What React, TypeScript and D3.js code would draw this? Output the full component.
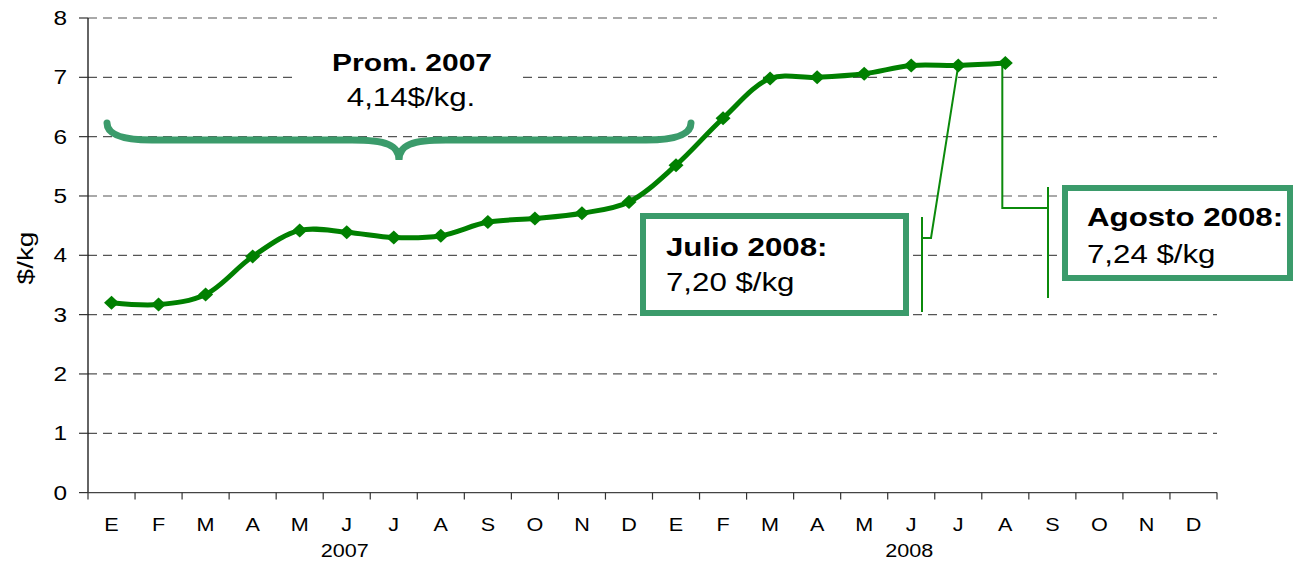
import React, { useEffect, useRef } from "react";
import * as d3 from "d3";

const months = ["E", "F", "M", "A", "M", "J", "J", "A", "S", "O", "N", "D"];
const categories = [...months, ...months];
const years = ["2007", "2008"];
// $/kg, Ene 2007 .. Ago 2008
const priceValues = [
  3.2, 3.17, 3.34, 3.98, 4.42, 4.39, 4.3, 4.33, 4.56, 4.62, 4.71, 4.9,
  5.52, 6.31, 6.98, 7.0, 7.06, 7.2, 7.2, 7.24,
];
const yTicks = [0, 1, 2, 3, 4, 5, 6, 7, 8];

const promTitle = "Prom. 2007";
const promValue = "4,14$/kg.";
const julioTitle = "Julio 2008:";
const julioValue = "7,20 $/kg";
const agostoTitle = "Agosto 2008:";
const agostoValue = "7,24 $/kg";

const FONT = "'Liberation Sans', Arial, sans-serif";
const SX = 1.25; // the source is stretched horizontally

const PriceChart: React.FC = () => {
  const ref = useRef<SVGSVGElement | null>(null);

  useEffect(() => {
    const svg = d3.select(ref.current);
    svg.selectAll("*").remove();

    const left = 88;
    const right = 1217;
    const top = 18;
    const bottom = 492.6;

    const x = d3
      .scaleBand<number>()
      .domain(d3.range(categories.length))
      .range([left, right]);
    const cx = (i: number) => x(i)! + x.bandwidth() / 2;
    const y = d3.scaleLinear().domain([0, 8]).range([bottom, top]);

    const label = (
      g: d3.Selection<any, unknown, null, undefined>,
      tx: number,
      ty: number,
      txt: string,
      size: number,
      anchor = "start",
      weight = "normal",
      sx = SX
    ) => {
      g.append("g")
        .attr("transform", `translate(${tx},${ty}) scale(${sx},1)`)
        .append("text")
        .attr("text-anchor", anchor)
        .style("font-family", FONT)
        .style("font-size", `${size}px`)
        .style("font-weight", weight)
        .attr("fill", "#000")
        .text(txt);
    };

    // Grid
    svg
      .append("g")
      .selectAll("line")
      .data(yTicks.filter((d) => d > 0))
      .join("line")
      .attr("x1", left)
      .attr("x2", right)
      .attr("y1", (d) => y(d))
      .attr("y2", (d) => y(d))
      .attr("stroke", "#555")
      .attr("stroke-width", 1.2)
      .attr("stroke-dasharray", "9,6");

    // Y axis
    const yAxis = svg.append("g");
    yAxis
      .append("line")
      .attr("x1", left)
      .attr("x2", left)
      .attr("y1", top)
      .attr("y2", bottom)
      .attr("stroke", "#111")
      .attr("stroke-width", 1.3);
    yTicks.forEach((t) => {
      yAxis
        .append("line")
        .attr("x1", left - 9)
        .attr("x2", left)
        .attr("y1", y(t))
        .attr("y2", y(t))
        .attr("stroke", "#333")
        .attr("stroke-width", 1.2);
      label(yAxis, 67, y(t) + 7, String(t), 19.5, "end");
    });
    yAxis
      .append("g")
      .attr("transform", `translate(33,258) rotate(-90) scale(1.27,1)`)
      .append("text")
      .attr("text-anchor", "middle")
      .style("font-family", FONT)
      .style("font-size", "22px")
      .text("$/kg");

    // X axis
    const xAxis = svg.append("g");
    xAxis
      .append("line")
      .attr("x1", left)
      .attr("x2", right)
      .attr("y1", bottom)
      .attr("y2", bottom)
      .attr("stroke", "#444")
      .attr("stroke-width", 1.3);
    d3.range(categories.length + 1).forEach((i) => {
      const px = left + i * x.step();
      xAxis
        .append("line")
        .attr("x1", px)
        .attr("x2", px)
        .attr("y1", bottom)
        .attr("y2", bottom + 7)
        .attr("stroke", "#333")
        .attr("stroke-width", 1.2);
    });
    categories.forEach((m, i) => label(xAxis, cx(i), 531, m, 18, "middle", "normal", 1.2));
    years.forEach((yr, k) => label(xAxis, cx(k * 12 + 5) - 2, 557, yr, 18, "middle", "normal", 1.2));

    // Prom. 2007 note
    const note = svg.append("g");
    note
      .append("rect")
      .attr("x", 296)
      .attr("y", 42)
      .attr("width", 226)
      .attr("height", 72)
      .attr("fill", "#fff");
    label(note, 412, 71, promTitle, 24, "middle", "bold");
    label(note, 411, 106, promValue, 25, "middle");
    note
      .append("path")
      .attr(
        "d",
        "M107,123 C107,135 124,140 152,140 L352,140 C386,140 399,145 399,160 " +
          "C399,145 412,140 446,140 L646,140 C674,140 691,135 691,123"
      )
      .attr("fill", "none")
      .attr("stroke", "#3b9b6b")
      .attr("stroke-width", 7)
      .attr("stroke-linecap", "round");

    // Callout leaders
    const jul = 18;
    const ago = 19;
    const lead = svg
      .append("g")
      .attr("fill", "none")
      .attr("stroke", "#0b8a0b")
      .attr("stroke-width", 2);
    lead.append("path").attr("d", "M922,217 L922,312");
    lead
      .append("path")
      .attr("d", `M922,238 L931,238 L${cx(jul)},${y(priceValues[jul])}`);
    lead
      .append("path")
      .attr("d", `M${cx(ago) - 3},${y(priceValues[ago])} L${cx(ago) - 3},208 L1048,208`);
    lead.append("path").attr("d", "M1048,187 L1048,298");

    // Callout boxes
    const boxes = svg.append("g");
    boxes
      .append("rect")
      .attr("x", 643)
      .attr("y", 216)
      .attr("width", 263)
      .attr("height", 97)
      .attr("fill", "#fff")
      .attr("stroke", "#3b9b6b")
      .attr("stroke-width", 6);
    label(boxes, 666, 256, julioTitle, 25, "start", "bold");
    label(boxes, 666, 291, julioValue, 25);
    boxes
      .append("rect")
      .attr("x", 1065)
      .attr("y", 188)
      .attr("width", 225)
      .attr("height", 90)
      .attr("fill", "#fff")
      .attr("stroke", "#3b9b6b")
      .attr("stroke-width", 6);
    label(boxes, 1087, 226, agostoTitle, 25, "start", "bold");
    label(boxes, 1087, 263, agostoValue, 25);

    // Series
    const line = d3
      .line<number>()
      .x((_, i) => cx(i))
      .y((d) => y(d))
      .curve(d3.curveCatmullRom.alpha(0.5));
    svg
      .append("path")
      .datum(priceValues)
      .attr("d", line)
      .attr("fill", "none")
      .attr("stroke", "#008000")
      .attr("stroke-width", 5);
    svg
      .append("g")
      .selectAll("path")
      .data(priceValues)
      .join("path")
      .attr("transform", (d, i) => `translate(${cx(i)},${y(d)})`)
      .attr("d", "M0,-7 L7.5,0 L0,7 L-7.5,0 Z")
      .attr("fill", "#008000");
  }, []);

  return (
    <svg
      ref={ref}
      width={1297}
      height={564}
      style={{ position: "absolute", left: 0, top: 0, background: "#fff" }}
    />
  );
};

export default function App() {
  return <PriceChart />;
}
